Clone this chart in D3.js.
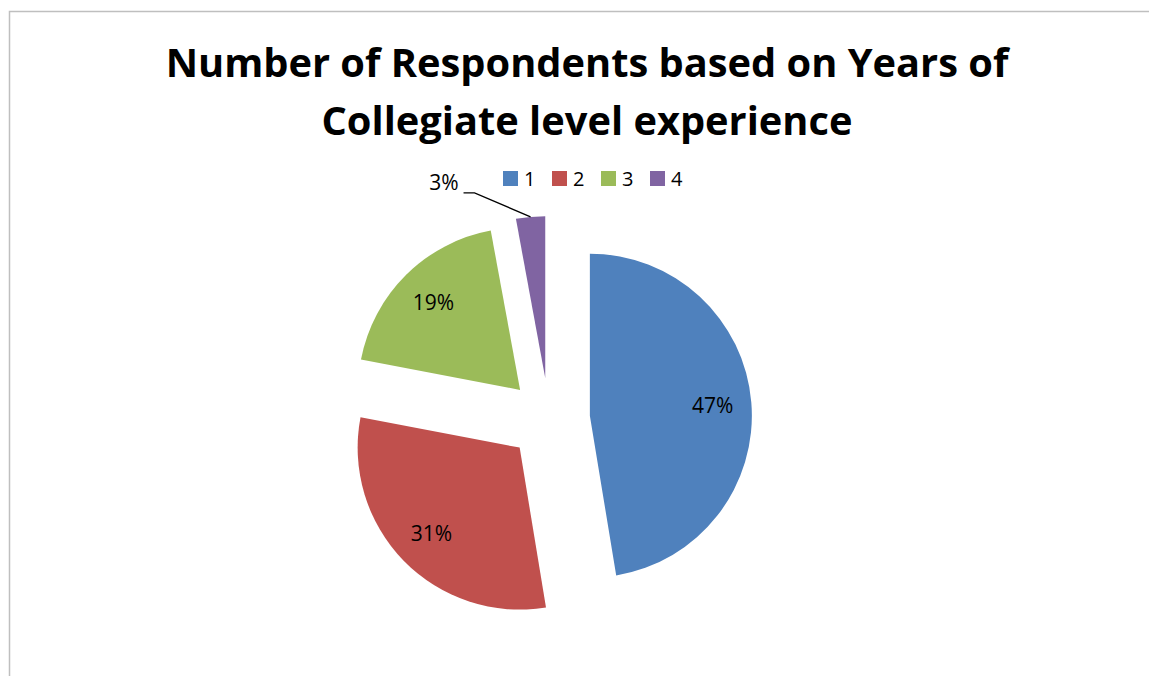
<!DOCTYPE html>
<html>
<head>
<meta charset="utf-8">
<script src="https://cdn.jsdelivr.net/npm/d3@7"></script>
<style>
  body { margin: 0; background: #fff; }
  text { font-family: "Open Sans", "DejaVu Sans", sans-serif; }
</style>
</head>
<body>
<script>
// data (share of respondents)
var categories = ["1", "2", "3", "4"];
var shares = [47.4, 30.6, 19.1, 2.9];
var colors = ["#4F81BD", "#C0504D", "#9BBB59", "#8064A2"];
var titleLines = ["Number of Respondents based on Years of", "Collegiate level experience"];

var svgWidth = 1149;
var svgHeight = 676;

var cx = 549, cy = 419;
var radius = 162;
var explode = 41;

var total = d3.sum(shares);
var labels = shares.map(v => Math.round(v / total * 100) + "%");

var svg = d3.select("body")
  .append("svg")
  .attr("width", svgWidth)
  .attr("height", svgHeight);

// chart border
svg.append("path")
  .attr("d", `M9.5,${svgHeight} V11.5 H${svgWidth}`)
  .attr("fill", "none")
  .attr("stroke", "#bfbfbf")
  .attr("stroke-width", 1.5);

// title
svg.selectAll(".title")
  .data(titleLines)
  .enter()
  .append("text")
  .attr("class", "title")
  .attr("x", 587)
  .attr("y", (d, i) => 77 + i * 58)
  .attr("text-anchor", "middle")
  .attr("font-size", "39.8px")
  .attr("font-weight", "bold")
  .attr("fill", "#000")
  .text(d => d);

var pie = d3.pie().sort(null).value(d => d);
var arcs = pie(shares);

var arc = d3.arc().innerRadius(0).outerRadius(radius);

function offset(d) {
  var mid = (d.startAngle + d.endAngle) / 2;
  return [explode * Math.sin(mid), -explode * Math.cos(mid)];
}

var slices = svg.selectAll(".slice")
  .data(arcs)
  .enter()
  .append("g")
  .attr("class", "slice")
  .attr("transform", d => {
    var o = offset(d);
    return `translate(${cx + o[0]}, ${cy + o[1]})`;
  });

slices.append("path")
  .attr("d", arc)
  .attr("fill", (d, i) => colors[i]);

// labels inside
var labelArc = d3.arc().innerRadius(radius * 0.76).outerRadius(radius * 0.76);

slices.filter((d, i) => i < 3)
  .append("text")
  .attr("transform", d => `translate(${labelArc.centroid(d)})`)
  .attr("text-anchor", "middle")
  .attr("dy", "0.35em")
  .attr("font-size", "21px")
  .attr("fill", "#000")
  .text((d, i) => labels[i]);

// outside label for small slice with leader line
var small = arcs[3];
var mid = (small.startAngle + small.endAngle) / 2;
var so = offset(small);
var p0 = [cx + so[0] + radius * Math.sin(mid), cy + so[1] - radius * Math.cos(mid)];
var p1 = [p0[0] - 56, p0[1] - 24];
var p2 = [p1[0] - 11, p1[1]];

svg.append("polyline")
  .attr("points", [p0, p1, p2].map(p => p.join(",")).join(" "))
  .attr("fill", "none")
  .attr("stroke", "#000")
  .attr("stroke-width", 1.3);

svg.append("text")
  .attr("x", p2[0] - 5)
  .attr("y", p2[1] - 3)
  .attr("text-anchor", "end")
  .attr("font-size", "21px")
  .attr("fill", "#000")
  .text(labels[3]);

// legend
var legend = svg.selectAll(".legend")
  .data(categories)
  .enter()
  .append("g")
  .attr("class", "legend")
  .attr("transform", (d, i) => `translate(${503 + i * 49}, 171)`);

legend.append("rect")
  .attr("width", 15)
  .attr("height", 15)
  .attr("fill", (d, i) => colors[i]);

legend.append("text")
  .attr("x", 21)
  .attr("y", 14.5)
  .attr("font-size", "20px")
  .attr("fill", "#000")
  .text(d => d);
</script>
</body>
</html>
